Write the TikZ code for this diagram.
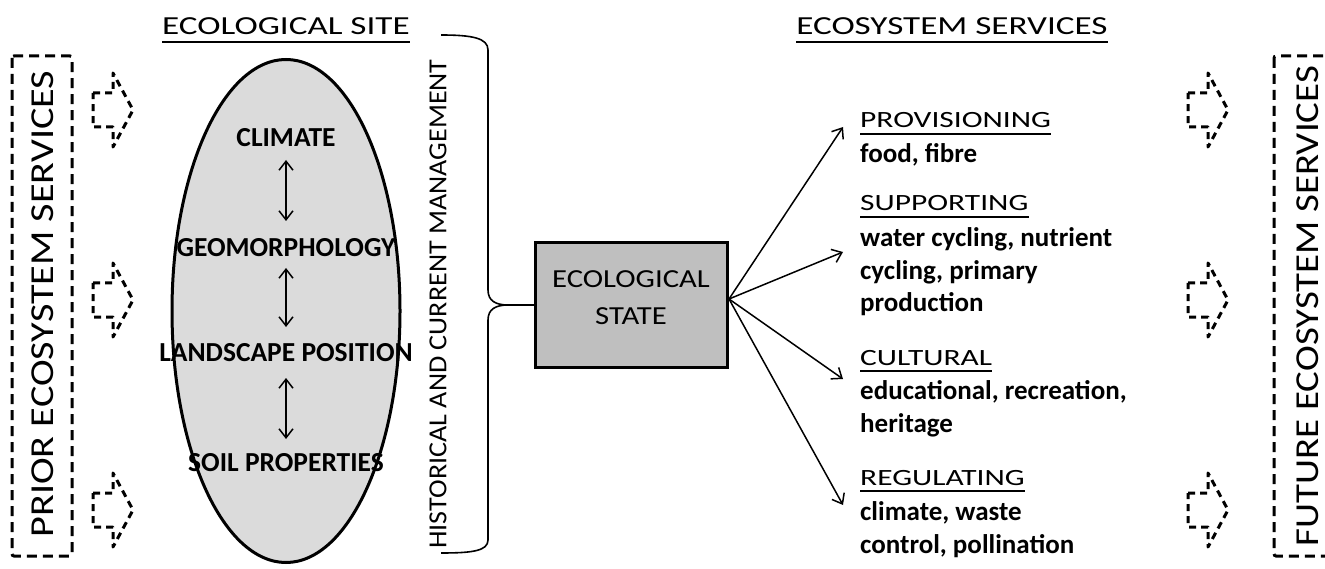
\documentclass[tikz,border=0pt]{standalone}
\usepackage{fontspec}
\setmainfont{Carlito}
\newfontfamily\wideA{Carlito}[FakeStretch=1.35]
\newfontfamily\wideB{Carlito}[FakeStretch=1.2]
\newfontfamily\wideE{Carlito}[FakeStretch=1.16]
\newfontfamily\wideC{Carlito}[FakeStretch=1.18]
\newfontfamily\wideD{Carlito}[FakeStretch=1.08]
\usetikzlibrary{shapes.geometric,arrows.meta}
\tikzset{
  dbox/.style={draw, line width=3pt, dash pattern=on 10pt off 6pt, rounded corners=2pt},
  blockarr/.pic={\draw[line width=3pt, dash pattern=on 7pt off 5pt, line join=round]
     (-20,-17) -- (0,-17) -- (0,-37) -- (20,0) -- (0,37) -- (0,17) -- (-20,17) -- cycle;},
  bigtxt/.style={font=\wideB\fontsize{33.5}{38}\selectfont, inner sep=0pt},
  bigtxtf/.style={font=\wideE\fontsize{33.5}{38}\selectfont, inner sep=0pt},
  head/.style={font=\wideA\fontsize{26}{30}\selectfont, inner sep=0pt, anchor=base},
  elltxt/.style={font=\bfseries\fontsize{27.5}{30}\selectfont, inner sep=0pt, anchor=base},
  svhead/.style={font=\wideA\fontsize{23.3}{26}\selectfont, inner sep=0pt, anchor=base west},
  svbody/.style={font=\bfseries\fontsize{27}{32.7}\selectfont, inner sep=0pt, anchor=base west, align=left},
  ul/.style={line width=2pt},
  arr/.style={line width=1.5pt, -{Straight Barb[length=9pt,width=14pt]}},
  darr/.style={line width=1.5pt, {Straight Barb[length=9pt,width=14pt]}-{Straight Barb[length=9pt,width=14pt]}},
}
\begin{document}
\begin{tikzpicture}[x=1pt,y=-1pt]
\useasboundingbox (0,0) rectangle (1325,569);
% side boxes
\draw[dbox] (12,56) rectangle (72,556);
\node[bigtxt, rotate=90] (prior) at (43,304) {PRIOR ECOSYSTEM SERVICES};
\draw[dbox] (1274,56) rectangle (1345,556);
\node[bigtxtf, rotate=90] (future) at (1308,306) {FUTURE ECOSYSTEM SERVICES};
% block arrows
\pic (pa1) at (113,110) {blockarr};
\pic (pa2) at (113,300) {blockarr};
\pic (pa3) at (113,510) {blockarr};
\pic (fa1) at (1208,110) {blockarr};
\pic (fa2) at (1208,300) {blockarr};
\pic (fa3) at (1208,510) {blockarr};
% headings
\node[head] (hsite) at (286,35) {ECOLOGICAL SITE};
\draw[ul] ([yshift=-7pt]hsite.base west) -- ([yshift=-7pt]hsite.base east);
\node[head] (hserv) at (952,35) {ECOSYSTEM SERVICES};
\draw[ul] ([yshift=-7pt]hserv.base west) -- ([yshift=-7pt]hserv.base east);
% ellipse
\node[ellipse, draw, line width=3pt, fill=black!14, minimum width=228pt, minimum height=503pt, inner sep=0pt] (ell) at (286,311) {};
\node[elltxt] (clim) at (286,147) {CLIMATE};
\node[elltxt] (geo) at (286,257) {GEOMORPHOLOGY};
\node[elltxt] (land) at (286,361) {LANDSCAPE POSITION};
\node[elltxt] (soil) at (286,471) {SOIL PROPERTIES};
\coordinate (a1) at (286,160); \coordinate (b1) at (286,221);
\coordinate (a2) at (286,268); \coordinate (b2) at (286,327);
\coordinate (a3) at (286,378); \coordinate (b3) at (286,439);
\draw[darr] (a1) -- (b1);
\draw[darr] (a2) -- (b2);
\draw[darr] (a3) -- (b3);
% management text and brace
\node[font=\wideD\fontsize{26}{30}\selectfont, inner sep=0pt, rotate=90] (mgmt) at (438,304) {HISTORICAL AND CURRENT MANAGEMENT};
\coordinate (bt) at (508,305);
\draw[line width=1.6pt] (441,35) .. controls (472,35) and (488,38) .. (488,50) -- (488,290)
   .. controls (488,301) and (496,305) .. (bt)
   .. controls (496,305) and (488,309) .. (488,320) -- (488,540)
   .. controls (488,551) and (472,553) .. (441,553);
% ecological state
\node[draw, line width=3pt, fill=black!25, minimum width=192pt, minimum height=124pt, inner sep=0pt] (st) at (631,305) {};
\node[align=center, inner sep=0pt, font=\wideC\fontsize{26}{37}\selectfont] (sttxt) at (631,298) {ECOLOGICAL\\STATE};
\draw[line width=1.6pt] (bt) -- (st.west);
% arrows to services
\coordinate (t1) at (843,127);
\coordinate (t2) at (843,252);
\coordinate (t3) at (843,379);
\coordinate (t4) at (843,505);
\coordinate (so) at (729,299);
\draw[arr] (so) -- (t1);
\draw[arr] (so) -- (t2);
\draw[arr] (so) -- (t3);
\draw[arr] (so) -- (t4);
% services text
\node[svhead] (prov) at (860,128) {PROVISIONING};
\draw[ul] ([yshift=-6pt]prov.base west) -- ([yshift=-6pt]prov.base east);
\node[svbody] (provb) at (860,163) {food, fibre};
\node[svhead] (supp) at (860,211) {SUPPORTING};
\draw[ul] ([yshift=-6pt]supp.base west) -- ([yshift=-6pt]supp.base east);
\node[svbody] (suppb) at (860,312) {water cycling, nutrient\\cycling, primary\\production};
\node[svhead] (cult) at (860,365) {CULTURAL};
\draw[ul] ([yshift=-6pt]cult.base west) -- ([yshift=-6pt]cult.base east);
\node[svbody] (cultb) at (860,432) {educational, recreation,\\heritage};
\node[svhead] (regu) at (860,485) {REGULATING};
\draw[ul] ([yshift=-6pt]regu.base west) -- ([yshift=-6pt]regu.base east);
\node[svbody] (regub) at (860,553) {climate, waste\\control, pollination};
\end{tikzpicture}
\end{document}
